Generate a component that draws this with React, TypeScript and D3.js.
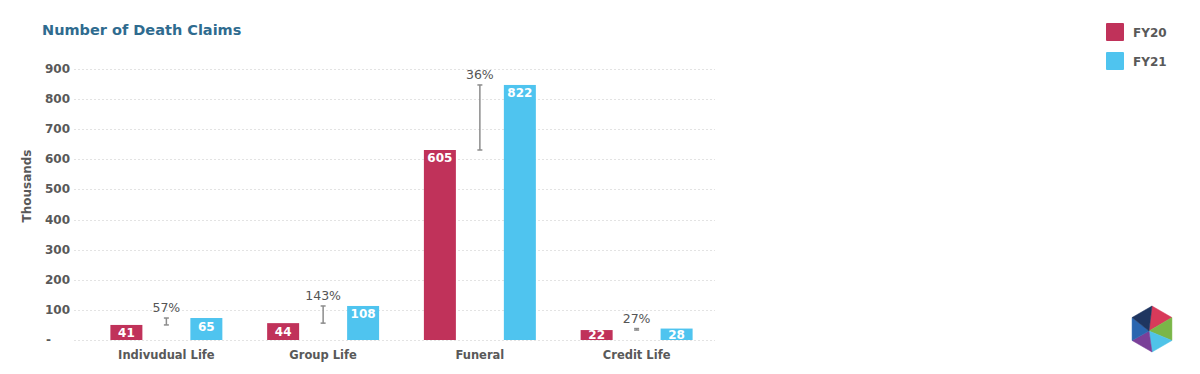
import React, { useEffect } from "react";
import * as d3 from "d3";

// chart data (thousands)
const categories = ["Indivudual Life", "Group Life", "Funeral", "Credit Life"];
const seriesNames = ["FY20", "FY21"];
const fy20 = [50, 56, 631, 33];
const fy21 = [73, 113, 847, 38];
const fy20Labels = ["41", "44", "605", "22"];
const fy21Labels = ["65", "108", "822", "28"];
const growthLabels = ["57%", "143%", "36%", "27%"];
const yTicks = [0, 100, 200, 300, 400, 500, 600, 700, 800, 900];

const COLORS = ["#c0325a", "#4fc4ef"];
const TEXT = "#595959";
const FONT = "'DejaVu Sans', Verdana, sans-serif";

const W = 1200;
const H = 374;

export default function App() {
  useEffect(() => {
    document.body.style.margin = "0";
  }, []);

  const y = d3.scaleLinear().domain([0, 900]).range([340, 69]);
  const x0 = d3.scaleBand<string>().domain(categories).range([88, 715]).padding(0);
  const x1 = d3
    .scaleBand<string>()
    .domain(seriesNames)
    .range([0, x0.bandwidth()])
    .paddingInner(0.6)
    .paddingOuter(0.28);

  const series = [fy20, fy21];
  const labels = [fy20Labels, fy21Labels];

  // little logo hexagon
  const hexC = { x: 1152, y: 329 };
  const hexR = 23;
  const hub = { x: 1149, y: 331 };
  const hexPts = d3.range(6).map((i) => {
    const a = (-90 + i * 60) * (Math.PI / 180);
    return [hexC.x + hexR * Math.cos(a), hexC.y + hexR * Math.sin(a)];
  });
  const hexColors = ["#d83a5a", "#7ab648", "#4fc3e8", "#7a3f98", "#2a66b0", "#1e3560"];

  return (
    <svg width={W} height={H} style={{ display: "block", background: "#fff", fontFamily: FONT }}>
      {/* title */}
      <text x={42} y={35} fontSize={14.5} fontWeight="bold" fill="#2f6b8f">
        Number of Death Claims
      </text>

      {/* y axis title */}
      <text
        transform={`translate(31,186) rotate(-90)`}
        textAnchor="middle"
        fontSize={12}
        fontWeight="bold"
        fill={TEXT}
      >
        Thousands
      </text>

      {/* gridlines + tick labels */}
      {yTicks.map((t) => (
        <g key={t}>
          <line
            x1={74}
            x2={715}
            y1={Math.round(y(t)) + 0.5}
            y2={Math.round(y(t)) + 0.5}
            stroke="#e3e3e3"
            strokeDasharray="2,2"
          />
          <text
            x={t === 0 ? 46 : 70}
            y={y(t) + 4}
            textAnchor={t === 0 ? "start" : "end"}
            fontSize={12}
            fontWeight="bold"
            fill={TEXT}
          >
            {t === 0 ? "-" : t}
          </text>
        </g>
      ))}

      {/* bars */}
      {categories.map((c, i) => (
        <g key={c} transform={`translate(${x0(c)},0)`}>
          {seriesNames.map((s, j) => {
            const v = series[j][i];
            const bx = x1(s) as number;
            return (
              <g key={s}>
                <rect x={bx} y={y(v)} width={x1.bandwidth()} height={y(0) - y(v)} fill={COLORS[j]} />
                <text
                  x={bx + x1.bandwidth() / 2}
                  y={Math.min(y(v) + 12.5, y(0) - 1)}
                  textAnchor="middle"
                  fontSize={12}
                  fontWeight="bold"
                  fill="#fff"
                >
                  {labels[j][i]}
                </text>
              </g>
            );
          })}
          {/* change range marker */}
          {(() => {
            const cx = x0.bandwidth() / 2;
            const top = y(Math.max(fy20[i], fy21[i]));
            const bot = y(Math.min(fy20[i], fy21[i]));
            return (
              <g>
                <line x1={cx} x2={cx} y1={top} y2={bot} stroke="#8c8c8c" strokeWidth={1.5} />
                <line x1={cx - 2.5} x2={cx + 2.5} y1={top} y2={top} stroke="#8c8c8c" strokeWidth={1.5} />
                <line x1={cx - 2.5} x2={cx + 2.5} y1={bot} y2={bot} stroke="#8c8c8c" strokeWidth={1.5} />
                <text x={cx} y={top - 6} textAnchor="middle" fontSize={12.5} fill="#555">
                  {growthLabels[i]}
                </text>
              </g>
            );
          })()}
          <text
            x={x0.bandwidth() / 2}
            y={359}
            textAnchor="middle"
            fontSize={11.5}
            fontWeight="bold"
            fill={TEXT}
          >
            {c}
          </text>
        </g>
      ))}

      {/* legend */}
      {seriesNames.map((s, j) => (
        <g key={s} transform={`translate(1106,${23 + j * 29})`}>
          <rect width={18} height={18} rx={1} fill={COLORS[j]} />
          <text x={27} y={14} fontSize={12} fontWeight="bold" fill={TEXT}>
            {s}
          </text>
        </g>
      ))}

      {/* logo */}
      <g>
        {hexPts.map((p, i) => {
          const q = hexPts[(i + 1) % 6];
          return (
            <polygon
              key={i}
              points={`${hub.x},${hub.y} ${p[0]},${p[1]} ${q[0]},${q[1]}`}
              fill={hexColors[i]}
              stroke={hexColors[i]}
              strokeWidth={0.5}
            />
          );
        })}
      </g>
    </svg>
  );
}
